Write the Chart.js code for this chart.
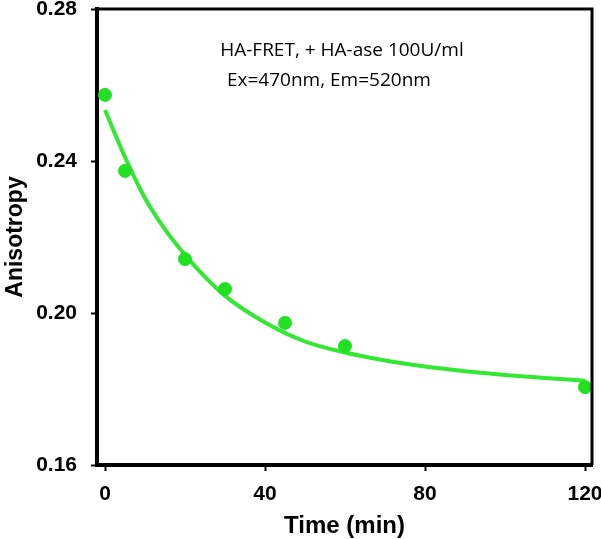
<!DOCTYPE html>
<html>
<head>
<meta charset="utf-8">
<script src="https://cdn.jsdelivr.net/npm/chart.js@4.4.0/dist/chart.umd.min.js"></script>
<style>
  html, body { margin: 0; padding: 0; background: #fff; }
  #wrap { width: 601px; height: 539px; }
</style>
</head>
<body>
<div id="wrap"><canvas id="anisoChart" width="601" height="539"></canvas></div>
<script>
// measured points
const timeMin = [0, 5, 20, 30, 45, 60, 120];
const anisotropy = [0.2574, 0.2374, 0.2142, 0.2063, 0.1974, 0.1913, 0.1805];

// fitted curve
const fitTime = [0, 5, 10, 15, 20, 25, 30, 40, 50, 60, 70, 80, 90, 100, 110, 120];
const fitValue = [0.2534, 0.2410, 0.2302, 0.2220, 0.2153, 0.2095, 0.2045, 0.1975, 0.1925, 0.1896, 0.1875, 0.1859, 0.1847, 0.1837, 0.1829, 0.1822];

const xTicks = [0, 40, 80, 120];
const yTicks = [0.16, 0.20, 0.24, 0.28];

const noteLines = ["HA-FRET, + HA-ase 100U/ml", "Ex=470nm, Em=520nm"];
const noteX = [28.8, 30.5];
const noteY = [0.2690, 0.2611];

const boxPlugin = {
  id: 'boxAndNotes',
  afterDatasetsDraw(chart) {
    const ctx = chart.ctx;
    const a = chart.chartArea;
    ctx.save();
    ctx.strokeStyle = '#000';
    ctx.lineWidth = 3;
    ctx.beginPath();
    ctx.moveTo(a.left, a.top);
    ctx.lineTo(a.right, a.top);
    ctx.lineTo(a.right, a.bottom);
    ctx.stroke();

    const xs = chart.scales.x, ys = chart.scales.y;
    ctx.fillStyle = '#000';
    ctx.font = '19px "Open Sans", "Noto Sans", sans-serif';
    ctx.textBaseline = 'middle';
    ctx.textAlign = 'left';
    noteLines.forEach((t, i) => {
      ctx.fillText(t, xs.getPixelForValue(noteX[i]), ys.getPixelForValue(noteY[i]));
    });
    ctx.restore();
  }
};

new Chart(document.getElementById('anisoChart'), {
  type: 'scatter',
  data: {
    datasets: [
      {
        label: 'data',
        data: timeMin.map((t, i) => ({ x: t, y: anisotropy[i] })),
        backgroundColor: '#22e022',
        borderColor: '#22e022',
        pointRadius: 6.5,
        pointHoverRadius: 6.5,
        order: 1
      },
      {
        label: 'fit',
        type: 'line',
        data: fitTime.map((t, i) => ({ x: t, y: fitValue[i] })),
        borderColor: '#33e833',
        borderWidth: 4,
        pointRadius: 0,
        fill: false,
        cubicInterpolationMode: 'monotone',
        order: 2
      }
    ]
  },
  options: {
    responsive: false,
    animation: false,
    devicePixelRatio: 1,
    layout: { padding: { top: 9, right: 9, left: 0, bottom: 0 } },
    plugins: {
      legend: { display: false },
      tooltip: { enabled: false }
    },
    scales: {
      x: {
        type: 'linear',
        min: -2,
        max: 121.75,
        afterBuildTicks: s => { s.ticks = xTicks.map(v => ({ value: v })); },
        afterFit: s => { s.height = 74; s.paddingLeft = 0; s.paddingRight = 0; },
        grid: { drawOnChartArea: false, drawTicks: true, tickLength: 6, tickWidth: 2, tickColor: '#000' },
        border: { display: true, color: '#000', width: 4 },
        ticks: {
          color: '#000',
          padding: 11,
          font: { family: 'Liberation Sans, Arial, sans-serif', size: 21, weight: 'bold' }
        },
        title: {
          display: true,
          text: 'Time (min)',
          color: '#000',
          padding: { top: 0, bottom: -2 },
          font: { family: 'Liberation Sans, Arial, sans-serif', size: 24, weight: 'bold' }
        }
      },
      y: {
        type: 'linear',
        min: 0.16,
        max: 0.28,
        afterBuildTicks: s => { s.ticks = yTicks.map(v => ({ value: v })); },
        afterFit: s => { s.width = 97; s.paddingTop = 0; s.paddingBottom = 0; },
        grid: { drawOnChartArea: false, drawTicks: true, tickLength: 6, tickWidth: 2, tickColor: '#000' },
        border: { display: true, color: '#000', width: 4 },
        ticks: {
          color: '#000',
          padding: 14,
          callback: v => v.toFixed(2),
          font: { family: 'Liberation Sans, Arial, sans-serif', size: 21, weight: 'bold' }
        },
        title: {
          display: true,
          text: 'Anisotropy',
          color: '#000',
          padding: { top: 2, bottom: 0 },
          font: { family: 'Liberation Sans, Arial, sans-serif', size: 23, weight: 'bold' }
        }
      }
    }
  },
  plugins: [boxPlugin]
});
</script>
</body>
</html>
